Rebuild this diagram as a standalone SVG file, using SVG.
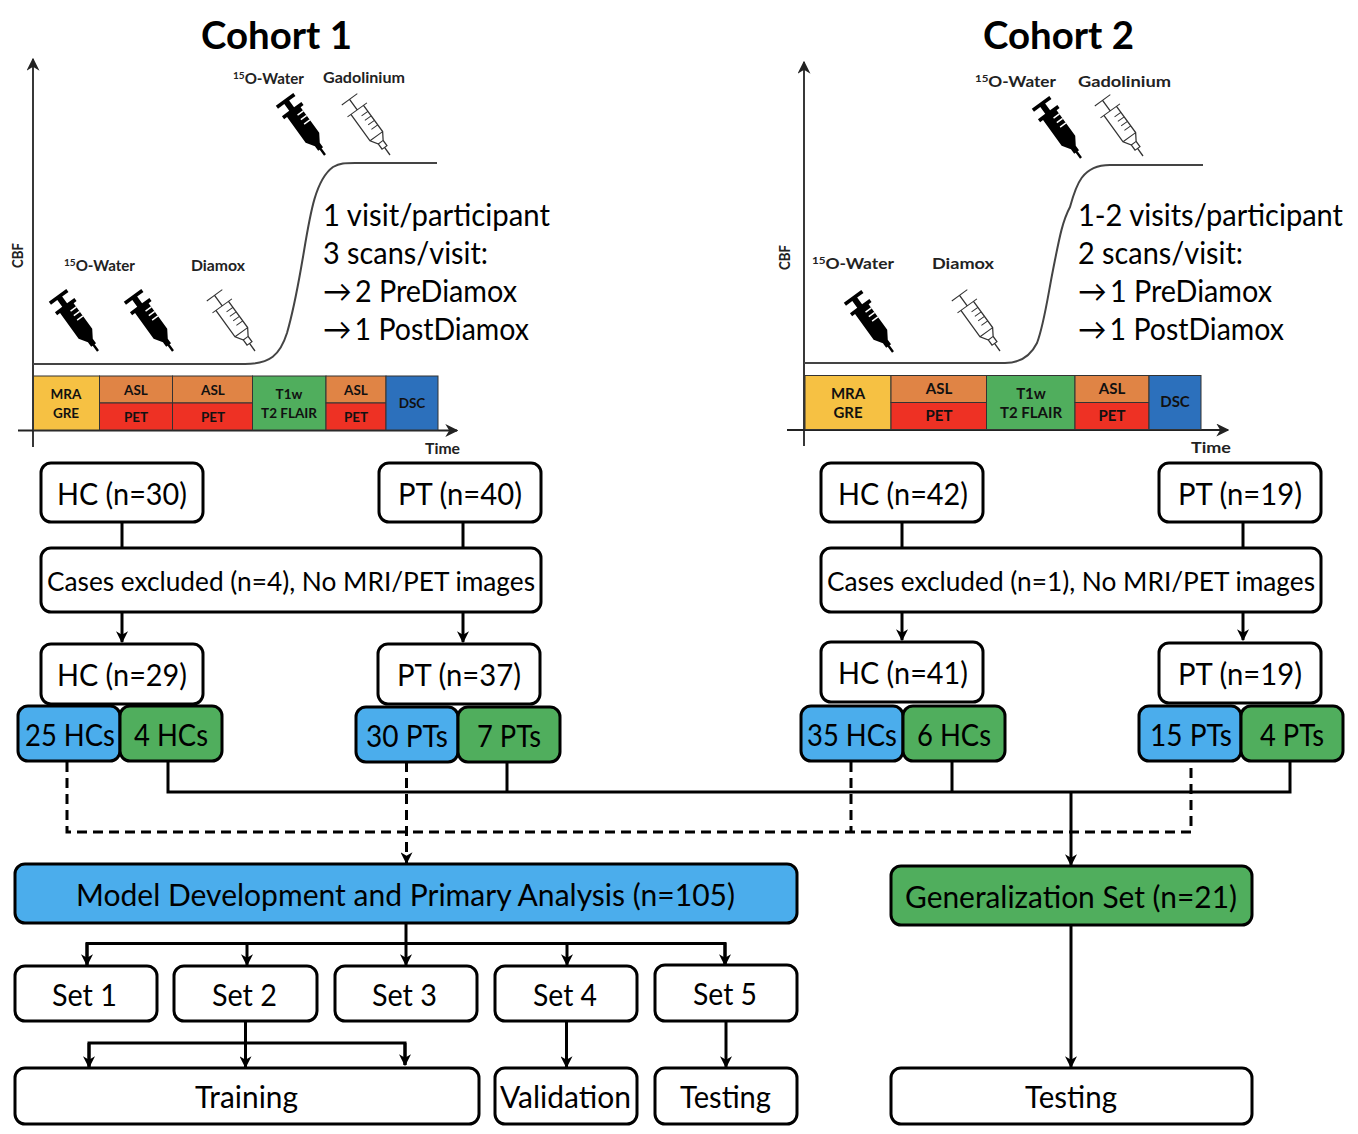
<svg xmlns="http://www.w3.org/2000/svg" xmlns:xlink="http://www.w3.org/1999/xlink" width="1358" height="1134" viewBox="0 0 1358 1134">
<style>
text{font-family:Lato,"Liberation Sans",sans-serif;fill:#000}
.t{font-size:30px;transform:translateY(.6px)}
.x{font-size:26.500px;transform:translateY(.6px)}
.m{font-size:30px;transform:translateY(1px)}
.title{font-size:38px;font-weight:700}
.s{font-size:15px;font-weight:700;fill:#222}
.b{font-size:13.500px;font-weight:700;fill:#111;text-anchor:middle}
.b2{font-size:15px}
.box{stroke:#000;stroke-width:3;fill:#fff}
.blue{fill:#4BADEC}
.green{fill:#50AE5D}
.c{fill:none;stroke:#000;stroke-width:3}
.d{fill:none;stroke:#000;stroke-width:3;stroke-dasharray:10 6}
.ax{fill:none;stroke:#222;stroke-width:1.8}
.curve{fill:none;stroke:#444;stroke-width:2}
.bar{stroke:#333;stroke-width:1}
.arw{letter-spacing:-2.200px}
</style>
<defs>
<marker id="arr" viewBox="0 0 10 10" refX="9" refY="5" markerWidth="12" markerHeight="12" markerUnits="userSpaceOnUse" orient="auto"><path d="M0 0L10 5L0 10L3 5Z" fill="#000"/></marker>
<marker id="axh" viewBox="0 0 10 10" refX="9" refY="5" markerWidth="13" markerHeight="13" markerUnits="userSpaceOnUse" orient="auto"><path d="M0 0L10 5L0 10L3 5Z" fill="#222"/></marker>
<g id="syr-solid" transform="rotate(-36) scale(1.200,.93)">
<path d="M-9-74H9V-70H2.500V-61H10V-57H7V-23L2.500-14V-8H1V0H-1V-8H-2.500V-14L-7-23V-57H-10V-61H-2.500V-70H-9Z" fill="#000"/>
<path d="M7-52H1M7-46H1M7-40H1" stroke="#fff" stroke-width="1.600" fill="none"/>
</g>
<g id="syr-open" transform="rotate(-36) scale(1.200,.93)">
<path d="M-8-74H8M0-74V-60M-10-60H10M-6.500-60V-25L-2.500-17V-10H2.500V-17L6.500-25V-60M0-10V0M-2.500-17H2.500M-6.500-25H6.500M6.500-52H0M6.500-46H0M6.500-40H0M6.500-34H0" fill="none" stroke="#333" stroke-width="1.100"/>
</g>
</defs>

<g id="cohort1-chart">
<text class="title" x="201" y="49" textLength="151" lengthAdjust="spacingAndGlyphs">Cohort 1</text>
<path class="ax" d="M33 447V59" marker-end="url(#axh)"/>
<path class="ax" d="M18 430.500H457" marker-end="url(#axh)"/>
<path class="curve" d="M33 364H245C270 364 280 355 287 333C295 305 298 285 303 257C310 215 315 180 333 167C340 163 345 163 355 163H437"/>
<rect class="bar" x="33.500" y="376" width="66" height="54" fill="#F6C143"/>
<rect class="bar" x="99.500" y="376" width="73" height="27" fill="#E08445"/>
<rect class="bar" x="99.500" y="403" width="73" height="27" fill="#EE3124"/>
<rect class="bar" x="172.500" y="376" width="80" height="27" fill="#E08445"/>
<rect class="bar" x="172.500" y="403" width="80" height="27" fill="#EE3124"/>
<rect class="bar" x="252.500" y="376" width="73.500" height="54" fill="#50AE5D"/>
<rect class="bar" x="326" y="376" width="60" height="27" fill="#E08445"/>
<rect class="bar" x="326" y="403" width="60" height="27" fill="#EE3124"/>
<rect class="bar" x="386" y="376" width="52" height="54" fill="#2C70BC"/>
<text class="b" x="66" y="399">MRA</text><text class="b" x="66" y="418">GRE</text>
<text class="b" x="136" y="395">ASL</text><text class="b" x="136" y="422">PET</text>
<text class="b" x="213" y="395">ASL</text><text class="b" x="213" y="422">PET</text>
<text class="b" x="289" y="399">T1w</text><text class="b" x="289" y="418">T2 FLAIR</text>
<text class="b" x="356" y="395">ASL</text><text class="b" x="356" y="422">PET</text>
<text class="b" x="412" y="408">DSC</text>
<text class="s" transform="translate(23 268) rotate(-90)" textLength="25" lengthAdjust="spacingAndGlyphs">CBF</text>
<text class="s" x="425" y="454" textLength="35" lengthAdjust="spacingAndGlyphs">Time</text>
<text class="s" x="233" y="84" textLength="71" lengthAdjust="spacingAndGlyphs"><tspan font-size="10" dy="-5">15</tspan><tspan dy="5">O-Water</tspan></text>
<text class="s" x="323" y="83" textLength="82" lengthAdjust="spacingAndGlyphs">Gadolinium</text>
<text class="s" x="64" y="271" textLength="71" lengthAdjust="spacingAndGlyphs"><tspan font-size="10" dy="-5">15</tspan><tspan dy="5">O-Water</tspan></text>
<text class="s" x="191" y="271" textLength="54" lengthAdjust="spacingAndGlyphs">Diamox</text>
<use xlink:href="#syr-solid" href="#syr-solid" x="98" y="351"/>
<use xlink:href="#syr-solid" href="#syr-solid" x="173" y="351"/>
<use xlink:href="#syr-open" href="#syr-open" x="255" y="351"/>
<use xlink:href="#syr-solid" href="#syr-solid" x="325" y="155"/>
<use xlink:href="#syr-open" href="#syr-open" x="390" y="155"/>
<text class="m" x="323" y="225" textLength="227" lengthAdjust="spacingAndGlyphs">1 visit/participant</text>
<text class="m" x="323" y="263" textLength="165" lengthAdjust="spacingAndGlyphs">3 scans/visit:</text>
<text class="m" x="323" y="301" textLength="194" lengthAdjust="spacingAndGlyphs"><tspan class="arw">→ </tspan>2 PreDiamox</text>
<text class="m" x="323" y="339" textLength="206" lengthAdjust="spacingAndGlyphs"><tspan class="arw">→ </tspan>1 PostDiamox</text>
</g>

<g id="cohort2-chart">
<text class="title" x="983" y="49" textLength="151" lengthAdjust="spacingAndGlyphs">Cohort 2</text>
<path class="ax" d="M804 446V62" marker-end="url(#axh)"/>
<path class="ax" d="M787 430H1228" marker-end="url(#axh)"/>
<path class="curve" d="M804 363H1005C1020 363 1030 357 1037 343C1044 325 1048 295 1053 270C1059 240 1062 222 1070 207C1076 185 1082 165 1110 165H1203"/>
<rect class="bar" x="805" y="375.500" width="86" height="54" fill="#F6C143"/>
<rect class="bar" x="891" y="375.500" width="95.500" height="27" fill="#E08445"/>
<rect class="bar" x="891" y="402.500" width="95.500" height="27" fill="#EE3124"/>
<rect class="bar" x="986.500" y="375.500" width="88.500" height="54" fill="#50AE5D"/>
<rect class="bar" x="1075" y="375.500" width="74" height="27" fill="#E08445"/>
<rect class="bar" x="1075" y="402.500" width="74" height="27" fill="#EE3124"/>
<rect class="bar" x="1149" y="375.500" width="52" height="54" fill="#2C70BC"/>
<text class="b b2" x="848" y="399">MRA</text><text class="b b2" x="848" y="418">GRE</text>
<text class="b b2" x="939" y="394">ASL</text><text class="b b2" x="939" y="421">PET</text>
<text class="b b2" x="1031" y="399">T1w</text><text class="b b2" x="1031" y="418">T2 FLAIR</text>
<text class="b b2" x="1112" y="394">ASL</text><text class="b b2" x="1112" y="421">PET</text>
<text class="b b2" x="1175" y="407">DSC</text>
<text class="s" transform="translate(790 270) rotate(-90)" textLength="25" lengthAdjust="spacingAndGlyphs">CBF</text>
<text class="s" x="1191" y="453" textLength="40" lengthAdjust="spacingAndGlyphs">Time</text>
<text class="s" x="975" y="87" textLength="81" lengthAdjust="spacingAndGlyphs"><tspan font-size="10" dy="-5">15</tspan><tspan dy="5">O-Water</tspan></text>
<text class="s" x="1078" y="87" textLength="93" lengthAdjust="spacingAndGlyphs">Gadolinium</text>
<text class="s" x="812" y="269" textLength="82" lengthAdjust="spacingAndGlyphs"><tspan font-size="10" dy="-5">15</tspan><tspan dy="5">O-Water</tspan></text>
<text class="s" x="932" y="269" textLength="62" lengthAdjust="spacingAndGlyphs">Diamox</text>
<use xlink:href="#syr-solid" href="#syr-solid" x="893" y="352"/>
<use xlink:href="#syr-open" href="#syr-open" x="1000" y="351"/>
<use xlink:href="#syr-solid" href="#syr-solid" x="1081" y="158"/>
<use xlink:href="#syr-open" href="#syr-open" x="1143" y="156"/>
<text class="m" x="1078" y="225" textLength="265" lengthAdjust="spacingAndGlyphs">1-2 visits/participant</text>
<text class="m" x="1078" y="263" textLength="165" lengthAdjust="spacingAndGlyphs">2 scans/visit:</text>
<text class="m" x="1078" y="301" textLength="194" lengthAdjust="spacingAndGlyphs"><tspan class="arw">→ </tspan>1 PreDiamox</text>
<text class="m" x="1078" y="339" textLength="206" lengthAdjust="spacingAndGlyphs"><tspan class="arw">→ </tspan>1 PostDiamox</text>
</g>

<g id="connectors">
<path class="c" d="M122 522V548M463 522V548M902 522V548M1243 522V548"/>
<path class="c" d="M122 612V642" marker-end="url(#arr)"/>
<path class="c" d="M463 612V642" marker-end="url(#arr)"/>
<path class="c" d="M902 612V640" marker-end="url(#arr)"/>
<path class="c" d="M1243 612V640" marker-end="url(#arr)"/>
<path class="c" d="M168 762V792H1290V762M507 762V792M952 762V792"/>
<path class="c" d="M1071 792V865" marker-end="url(#arr)"/>
<path class="d" d="M67 762V832H1191V762M851 762V832"/>
<path class="d" d="M406.500 762V863" marker-end="url(#arr)"/>
<path class="c" d="M1071 925V1067" marker-end="url(#arr)"/>
<path class="c" d="M406 923V965" marker-end="url(#arr)"/>
<path class="c" d="M87 965V943.500H725V965" />
<path class="c" d="M87 943V965" marker-end="url(#arr)"/>
<path class="c" d="M247 943V965" marker-end="url(#arr)"/>
<path class="c" d="M567 943V965" marker-end="url(#arr)"/>
<path class="c" d="M725 943V965" marker-end="url(#arr)"/>
<path class="c" d="M245.500 1021V1067" marker-end="url(#arr)"/>
<path class="c" d="M89 1067V1043H405V1065"/>
<path class="c" d="M89 1043V1067" marker-end="url(#arr)"/>
<path class="c" d="M405 1043V1065" marker-end="url(#arr)"/>
<path class="c" d="M566.500 1021V1067" marker-end="url(#arr)"/>
<path class="c" d="M726 1021V1067" marker-end="url(#arr)"/>
</g>

<g id="hc30"><rect class="box" x="41" y="463" width="162" height="59" rx="10"/><text class="t" x="57" y="504" textLength="130" lengthAdjust="spacingAndGlyphs">HC (n=30)</text></g>
<g id="pt40"><rect class="box" x="379" y="463" width="162" height="59" rx="10"/><text class="t" x="398" y="504" textLength="124" lengthAdjust="spacingAndGlyphs">PT (n=40)</text></g>
<g id="excl1"><rect class="box" x="41" y="548" width="500" height="64" rx="10"/><text class="x" x="47" y="590" textLength="488" lengthAdjust="spacingAndGlyphs">Cases excluded (n=4), No MRI/PET images</text></g>
<g id="hc29"><rect class="box" x="41" y="644" width="162" height="60" rx="10"/><text class="t" x="57" y="685" textLength="130" lengthAdjust="spacingAndGlyphs">HC (n=29)</text></g>
<g id="pt37"><rect class="box" x="378" y="644" width="162" height="60" rx="10"/><text class="t" x="397" y="685" textLength="124" lengthAdjust="spacingAndGlyphs">PT (n=37)</text></g>
<g id="hc25"><rect class="box blue" x="18" y="706" width="102" height="55" rx="10"/><text class="t" x="25" y="745" textLength="90" lengthAdjust="spacingAndGlyphs">25 HCs</text></g>
<g id="hc4"><rect class="box green" x="120" y="706" width="102" height="55" rx="10"/><text class="t" x="134" y="745" textLength="74" lengthAdjust="spacingAndGlyphs">4 HCs</text></g>
<g id="pt30"><rect class="box blue" x="356" y="707" width="102" height="55" rx="10"/><text class="t" x="366" y="746" textLength="82" lengthAdjust="spacingAndGlyphs">30 PTs</text></g>
<g id="pt7"><rect class="box green" x="458" y="707" width="102" height="55" rx="10"/><text class="t" x="477" y="746" textLength="64" lengthAdjust="spacingAndGlyphs">7 PTs</text></g>

<g id="hc42"><rect class="box" x="821" y="463" width="162" height="59" rx="10"/><text class="t" x="838" y="504" textLength="130" lengthAdjust="spacingAndGlyphs">HC (n=42)</text></g>
<g id="pt19a"><rect class="box" x="1159" y="463" width="162" height="59" rx="10"/><text class="t" x="1178" y="504" textLength="124" lengthAdjust="spacingAndGlyphs">PT (n=19)</text></g>
<g id="excl2"><rect class="box" x="821" y="548" width="500" height="64" rx="10"/><text class="x" x="827" y="590" textLength="488" lengthAdjust="spacingAndGlyphs">Cases excluded (n=1), No MRI/PET images</text></g>
<g id="hc41"><rect class="box" x="821" y="642" width="162" height="60" rx="10"/><text class="t" x="838" y="683" textLength="130" lengthAdjust="spacingAndGlyphs">HC (n=41)</text></g>
<g id="pt19b"><rect class="box" x="1159" y="643" width="162" height="60" rx="10"/><text class="t" x="1178" y="684" textLength="124" lengthAdjust="spacingAndGlyphs">PT (n=19)</text></g>
<g id="hc35"><rect class="box blue" x="801" y="706" width="102" height="55" rx="10"/><text class="t" x="807" y="745" textLength="90" lengthAdjust="spacingAndGlyphs">35 HCs</text></g>
<g id="hc6"><rect class="box green" x="903" y="706" width="102" height="55" rx="10"/><text class="t" x="917" y="745" textLength="74" lengthAdjust="spacingAndGlyphs">6 HCs</text></g>
<g id="pt15"><rect class="box blue" x="1139" y="706" width="102" height="55" rx="10"/><text class="t" x="1150" y="745" textLength="82" lengthAdjust="spacingAndGlyphs">15 PTs</text></g>
<g id="pt4"><rect class="box green" x="1241" y="706" width="102" height="55" rx="10"/><text class="t" x="1260" y="745" textLength="64" lengthAdjust="spacingAndGlyphs">4 PTs</text></g>

<g id="model"><rect class="box blue" x="15" y="864" width="782" height="59" rx="10"/><text class="t" x="76" y="905" textLength="659" lengthAdjust="spacingAndGlyphs">Model Development and Primary Analysis (n=105)</text></g>
<g id="gen"><rect class="box green" x="891" y="866" width="361" height="59" rx="10"/><text class="t" x="905" y="907" textLength="332" lengthAdjust="spacingAndGlyphs">Generalization Set (n=21)</text></g>
<g id="set1"><rect class="box" x="15" y="966" width="142" height="55" rx="10"/><text class="t" x="52" y="1005" textLength="65" lengthAdjust="spacingAndGlyphs">Set 1</text></g>
<g id="set2"><rect class="box" x="174" y="966" width="143" height="55" rx="10"/><text class="t" x="212" y="1005" textLength="65" lengthAdjust="spacingAndGlyphs">Set 2</text></g>
<g id="set3"><rect class="box" x="335" y="966" width="142" height="55" rx="10"/><text class="t" x="372" y="1005" textLength="65" lengthAdjust="spacingAndGlyphs">Set 3</text></g>
<g id="set4"><rect class="box" x="495" y="966" width="142" height="55" rx="10"/><text class="t" x="533" y="1005" textLength="64" lengthAdjust="spacingAndGlyphs">Set 4</text></g>
<g id="set5"><rect class="box" x="655" y="965" width="142" height="56" rx="10"/><text class="t" x="693" y="1004" textLength="64" lengthAdjust="spacingAndGlyphs">Set 5</text></g>
<g id="training"><rect class="box" x="15" y="1068" width="464" height="56" rx="10"/><text class="t" x="195" y="1107" textLength="103" lengthAdjust="spacingAndGlyphs">Training</text></g>
<g id="validation"><rect class="box" x="495" y="1068" width="142" height="56" rx="10"/><text class="t" x="500" y="1107" textLength="131" lengthAdjust="spacingAndGlyphs">Validation</text></g>
<g id="testing1"><rect class="box" x="655" y="1068" width="142" height="56" rx="10"/><text class="t" x="680" y="1107" textLength="91" lengthAdjust="spacingAndGlyphs">Testing</text></g>
<g id="testing2"><rect class="box" x="891" y="1068" width="361" height="56" rx="10"/><text class="t" x="1025" y="1107" textLength="92" lengthAdjust="spacingAndGlyphs">Testing</text></g>
</svg>
